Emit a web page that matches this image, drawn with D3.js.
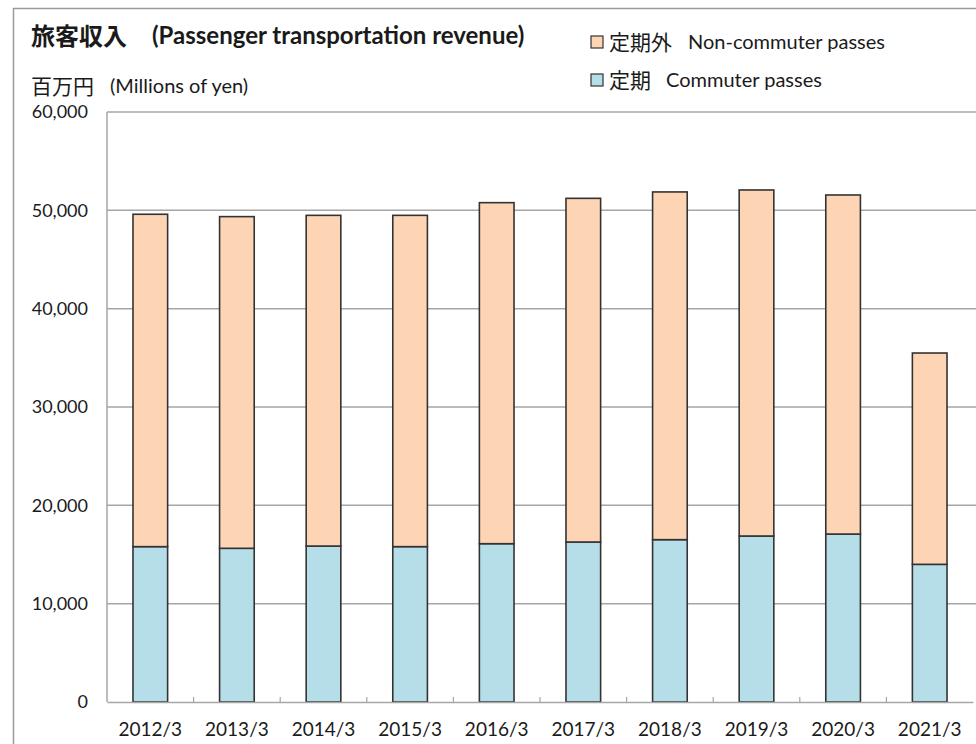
<!DOCTYPE html>
<html>
<head>
<meta charset="utf-8">
<script src="https://cdn.jsdelivr.net/npm/d3@7"></script>
<style>
  body { margin: 0; background: #fff; }
  svg text { font-family: Lato, "Noto Sans CJK JP", sans-serif; fill: #1a1a1a; }
</style>
</head>
<body>
<svg width="976" height="744"></svg>
<script>
// values (millions of yen)
const years = ["2012/3", "2013/3", "2014/3", "2015/3", "2016/3", "2017/3", "2018/3", "2019/3", "2020/3", "2021/3"];
const commuter = [15800, 15630, 15860, 15800, 16100, 16270, 16510, 16880, 17080, 14000];
const nonCommuter = [33800, 33730, 33630, 33690, 34680, 34950, 35360, 35190, 34480, 21490];
const yTicks = [0, 10000, 20000, 30000, 40000, 50000, 60000];

const seriesKeys = ["commuter", "nonCommuter"];
const colors = { commuter: "#b5dee8", nonCommuter: "#fdd5b5" };

const rows = years.map((y, i) => ({ year: y, commuter: commuter[i], nonCommuter: nonCommuter[i] }));

const svg = d3.select('svg');
const plotL = 107, plotR = 973, plotT = 112, plotB = 702;

// outer frame
svg.append('rect')
  .attr('x', 13.5).attr('y', 8.5)
  .attr('width', 1000).attr('height', 800)
  .attr('fill', 'none').attr('stroke', '#9a9a9a').attr('stroke-width', 1.5);

const x = d3.scaleBand().domain(years).range([plotL, plotR]).paddingInner(0.6).paddingOuter(0.3);
const xBound = d3.scaleBand().domain(years).range([plotL, plotR]);
const y = d3.scaleLinear().domain([0, 60000]).range([plotB, plotT]);

// gridlines
svg.append('g')
  .selectAll('line').data(yTicks.filter(d => d > 0)).enter().append('line')
  .attr('x1', plotL).attr('x2', 976)
  .attr('y1', d => y(d)).attr('y2', d => y(d))
  .attr('stroke', '#a6a6a6').attr('stroke-width', 1.5);

// left axis line
svg.append('line')
  .attr('x1', plotL).attr('x2', plotL).attr('y1', plotT).attr('y2', plotB)
  .attr('stroke', '#a6a6a6').attr('stroke-width', 1.5);

// y axis labels
const yAxis = d3.axisLeft(y).tickValues(yTicks).tickSize(0).tickPadding(19)
  .tickFormat(d3.format(","));
svg.append('g').attr('transform', `translate(${plotL},0)`).call(yAxis)
  .call(g => g.select('.domain').remove())
  .selectAll('text').style('font-size', '18px').attr('fill', '#1a1a1a');

// stacked bars
const stack = d3.stack().keys(seriesKeys)(rows);
svg.append('g').selectAll('g').data(stack).enter().append('g')
  .attr('fill', d => colors[d.key])
  .selectAll('rect').data(d => d).enter().append('rect')
  .attr('x', d => x(d.data.year))
  .attr('width', x.bandwidth())
  .attr('y', d => y(d[1]))
  .attr('height', d => y(d[0]) - y(d[1]))
  .attr('stroke', '#333').attr('stroke-width', 1.6);

// x axis
const xAxis = d3.axisBottom(xBound).tickSize(0).tickPadding(21);
svg.append('g').attr('transform', `translate(0,${plotB})`).call(xAxis)
  .call(g => g.select('.domain').attr('stroke', '#a6a6a6').attr('stroke-width', 1.5))
  .selectAll('text').style('font-size', '19px').attr('fill', '#1a1a1a');

// small inner ticks at category boundaries
svg.append('g').selectAll('line').data(years.slice(1)).enter().append('line')
  .attr('x1', d => xBound(d)).attr('x2', d => xBound(d))
  .attr('y1', plotB).attr('y2', plotB - 5)
  .attr('stroke', '#a6a6a6').attr('stroke-width', 1.2);

// titles
svg.append('text').attr('x', 31).attr('y', 45)
  .style('font-size', '24px').style('font-weight', 'bold')
  .style('font-family', '"Noto Sans CJK JP"').text('旅客収入');
svg.append('text').attr('x', 152).attr('y', 44)
  .style('font-size', '24px').style('font-weight', 'bold').text('(Passenger transportation revenue)');
svg.append('text').attr('x', 31).attr('y', 94)
  .style('font-size', '21px').style('font-family', '"Noto Sans CJK JP"').text('百万円');
svg.append('text').attr('x', 110).attr('y', 93)
  .style('font-size', '20px').text('(Millions of yen)');

// legend
const legendItems = [
  { key: "nonCommuter", jp: "定期外", en: "Non-commuter passes", y: 42, ex: 688 },
  { key: "commuter", jp: "定期", en: "Commuter passes", y: 80, ex: 666 }
];
const lg = svg.append('g').selectAll('g').data(legendItems).enter().append('g');
lg.append('rect').attr('x', 591).attr('y', d => d.y - 6).attr('width', 12).attr('height', 12)
  .attr('fill', d => colors[d.key]).attr('stroke', '#333').attr('stroke-width', 1.2);
lg.append('text').attr('x', 609).attr('y', d => d.y + 8)
  .style('font-size', '21px').style('font-family', '"Noto Sans CJK JP"').text(d => d.jp);
lg.append('text').attr('x', d => d.ex).attr('y', d => d.y + 7)
  .style('font-size', '20px').text(d => d.en);
</script>
</body>
</html>
